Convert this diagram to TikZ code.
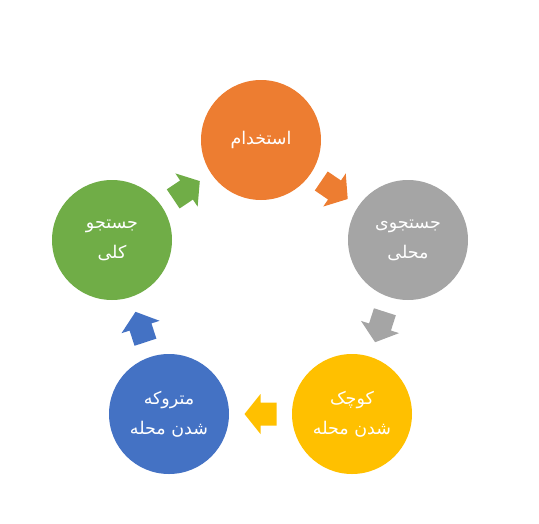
\documentclass[tikz,border=0pt]{standalone}
\usepackage{fontspec}
\newfontfamily\arabicfont[Script=Arabic]{DejaVu Sans}
\TeXXeTstate=1
\usetikzlibrary{calc}
\definecolor{cOrange}{HTML}{ED7D31}
\definecolor{cGray}{HTML}{A5A5A5}
\definecolor{cYellow}{HTML}{FFC000}
\definecolor{cBlue}{HTML}{4472C4}
\definecolor{cGreen}{HTML}{70AD47}
\tikzset{
  stage/.style={circle, draw=none, fill=#1, minimum size=120pt, inner sep=0pt,
    text=white, align=center, font=\arabicfont\fontsize{17.5}{30}\selectfont},
  blockarrow/.pic={
    \fill[pic actions] (-16,-11.5) -- (0,-11.5) -- (0,-20) -- (16,0) -- (0,20) -- (0,11.5) -- (-16,11.5) -- cycle;
  }
}
\begin{document}
\begin{tikzpicture}[x=1pt,y=-1pt]
\useasboundingbox (0,0) rectangle (539,523);
\node[stage=cOrange] (o) at (261,140) {\beginR استخدام\endR};
\node[stage=cGray]   (g) at (408,240) {\beginR جستجوی\endR\\\beginR محلی\endR};
\node[stage=cYellow] (y) at (352,414) {\beginR کوچک\endR\\\beginR شدن محله\endR};
\node[stage=cBlue]   (b) at (169,414) {\beginR متروکه\endR\\\beginR شدن محله\endR};
\node[stage=cGreen]  (k) at (112,240) {\beginR جستجو\endR\\\beginR کلی\endR};
\foreach \a/\c/\col in {o/g/cOrange, g/y/cGray, y/b/cYellow, b/k/cBlue, k/o/cGreen}{
  \path let \p1=($(\c)-(\a)$), \n1={atan2(\y1,\x1)} in
    ($(\a)!0.5!(\c)$) pic[fill=\col, rotate=\n1] {blockarrow};
}
\end{tikzpicture}
\end{document}
